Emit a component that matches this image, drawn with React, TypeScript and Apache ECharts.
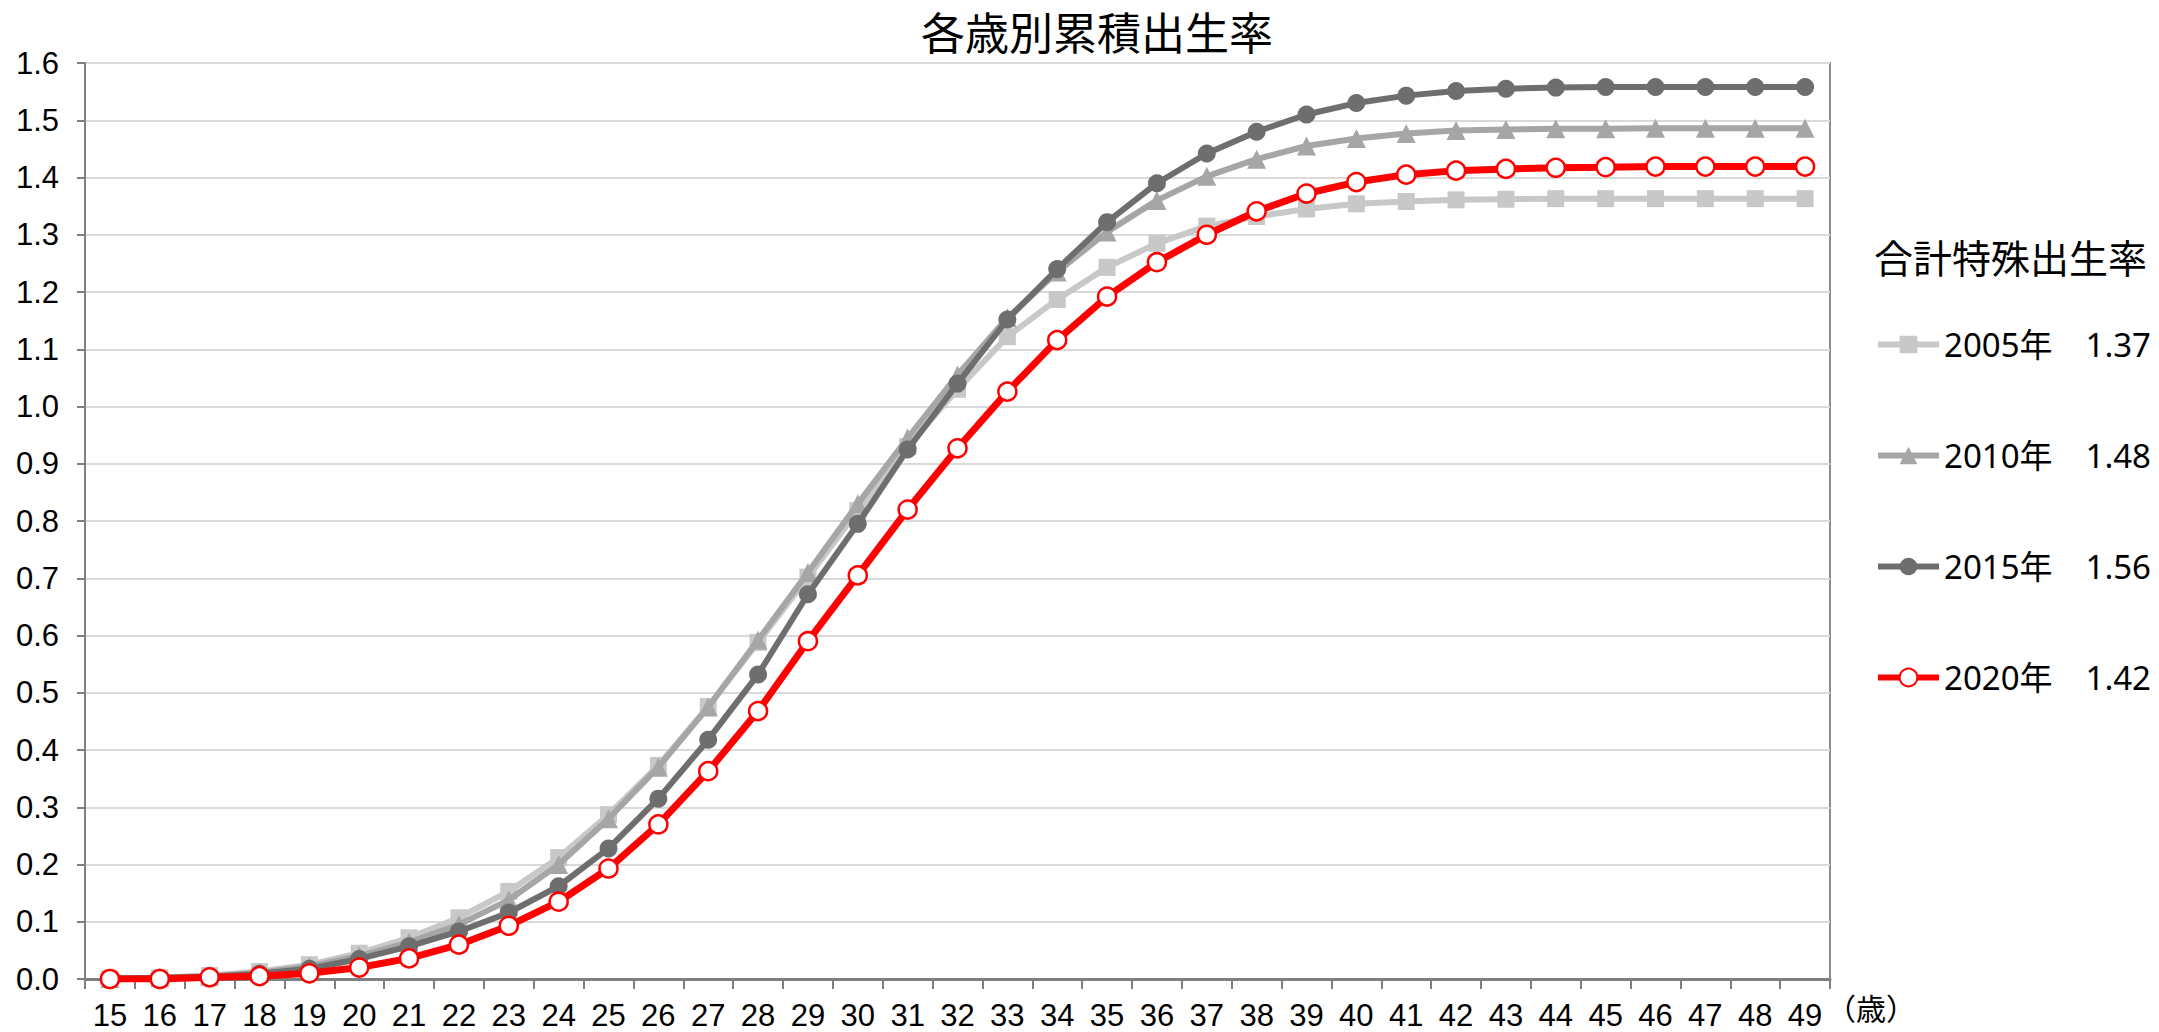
import React, { useEffect, useRef } from "react";
import * as echarts from "echarts";

const ages = ["15","16","17","18","19","20","21","22","23","24","25","26","27","28","29","30","31","32","33","34","35","36","37","38","39","40","41","42","43","44","45","46","47","48","49"];

const seriesNames = ["2005年　1.37", "2010年　1.48", "2015年　1.56", "2020年　1.42"];

const v2005 = [0.001,0.002,0.006,0.013,0.025,0.045,0.072,0.107,0.153,0.212,0.287,0.373,0.476,0.588,0.702,0.818,0.93,1.03,1.122,1.187,1.243,1.285,1.315,1.332,1.345,1.354,1.358,1.361,1.362,1.363,1.363,1.363,1.363,1.363,1.363];
const v2010 = [0.001,0.002,0.005,0.011,0.022,0.04,0.064,0.095,0.138,0.2,0.28,0.37,0.475,0.592,0.71,0.83,0.945,1.055,1.155,1.235,1.305,1.36,1.402,1.432,1.455,1.468,1.477,1.482,1.484,1.485,1.485,1.486,1.486,1.486,1.486];
const v2015 = [0.001,0.002,0.004,0.009,0.018,0.035,0.057,0.083,0.116,0.162,0.228,0.315,0.418,0.532,0.672,0.795,0.925,1.04,1.152,1.24,1.322,1.39,1.442,1.48,1.51,1.53,1.543,1.551,1.555,1.557,1.558,1.558,1.558,1.558,1.558];
const v2020 = [0.0,0.0,0.003,0.005,0.01,0.02,0.036,0.06,0.093,0.135,0.193,0.27,0.363,0.468,0.59,0.705,0.82,0.927,1.026,1.116,1.192,1.252,1.3,1.341,1.372,1.392,1.405,1.412,1.415,1.417,1.418,1.419,1.419,1.419,1.419];

const chartTitle = "各歳別累積出生率";
const legendTitle = "合計特殊出生率";
const xUnit = "（歳）";

const AXISFONT = "'Liberation Sans', Arial, sans-serif";
const CJK = "'Noto Sans', 'Noto Sans CJK JP', sans-serif";

export default function App() {
  const ref = useRef<HTMLDivElement>(null);
  useEffect(() => {
    document.body.style.margin = "0";
    document.body.style.overflow = "hidden";
    if (!ref.current) return;
    const chart = echarts.init(ref.current, undefined, { renderer: "svg" });
    const gridLeft = 85;
    const gridRight = 2159 - 1830;
    const gridTop = 63;
    const gridBottom = 1032 - 979;
    chart.setOption({
      animation: false,
      backgroundColor: "#ffffff",
      title: {
        text: chartTitle,
        left: 1092,
        textAlign: "center",
        top: 4,
        textStyle: { fontFamily: "'Noto Sans CJK JP', sans-serif", fontSize: 44, fontWeight: "normal", color: "#000" },
      },
      grid: {
        left: gridLeft,
        right: gridRight,
        top: gridTop,
        bottom: gridBottom,
        show: true,
        borderColor: "#8c8c8c",
        borderWidth: 2,
        containLabel: false,
      },
      legend: {
        orient: "vertical",
        left: 1870,
        top: 323,
        itemWidth: 61,
        itemHeight: 22,
        itemGap: 78,
        data: seriesNames,
        lineStyle: { width: 6 },
        textStyle: { fontFamily: CJK, fontSize: 33, color: "#000" },
      },
      graphic: [
        {
          type: "text",
          left: 1874,
          top: 236,
          style: { text: legendTitle, fontFamily: "'Noto Sans CJK JP', sans-serif", fontSize: 39, fill: "#000" },
        },
        {
          type: "text",
          left: 1826,
          top: 992,
          style: { text: xUnit, fontFamily: "'Noto Sans CJK JP', sans-serif", fontSize: 30, fill: "#000" },
        },
      ],
      xAxis: {
        type: "category",
        data: ages,
        boundaryGap: true,
        axisLine: { show: true, lineStyle: { color: "#7f7f7f", width: 3 } },
        axisTick: { show: true, length: 10, lineStyle: { color: "#7f7f7f", width: 2 } },
        axisLabel: { fontFamily: AXISFONT, fontSize: 31, color: "#000", margin: 21, interval: 0 },
        splitLine: { show: false },
      },
      yAxis: {
        type: "value",
        min: 0,
        max: 1.6,
        interval: 0.1,
        axisLine: { show: true, lineStyle: { color: "#7f7f7f", width: 2 } },
        axisTick: { show: true, length: 8, lineStyle: { color: "#7f7f7f", width: 2 } },
        axisLabel: {
          fontFamily: AXISFONT,
          fontSize: 31,
          color: "#000",
          margin: 26,
          formatter: (v: number) => v.toFixed(1),
        },
        splitLine: { show: true, lineStyle: { color: "#d9d9d9", width: 2 } },
      },
      series: [
        {
          name: seriesNames[0],
          type: "line",
          data: v2005,
          symbol: "rect",
          symbolSize: 17,
          lineStyle: { color: "#c8c8c8", width: 6 },
          itemStyle: { color: "#c8c8c8" },
          z: 2,
        },
        {
          name: seriesNames[1],
          type: "line",
          data: v2010,
          symbol: "triangle",
          symbolSize: 19,
          lineStyle: { color: "#a6a6a6", width: 6 },
          itemStyle: { color: "#a6a6a6" },
          z: 3,
        },
        {
          name: seriesNames[2],
          type: "line",
          data: v2015,
          symbol: "circle",
          symbolSize: 18,
          lineStyle: { color: "#6e6e6e", width: 6 },
          itemStyle: { color: "#6e6e6e" },
          z: 4,
        },
        {
          name: seriesNames[3],
          type: "line",
          data: v2020,
          symbol: "circle",
          symbolSize: 18,
          showAllSymbol: true,
          lineStyle: { color: "#ff0000", width: 7 },
          itemStyle: { color: "#ffffff", borderColor: "#ff0000", borderWidth: 2.5 },
          z: 5,
        },
      ],
    });
    return () => chart.dispose();
  }, []);
  return <div ref={ref} style={{ width: 2159, height: 1032 }} />;
}
